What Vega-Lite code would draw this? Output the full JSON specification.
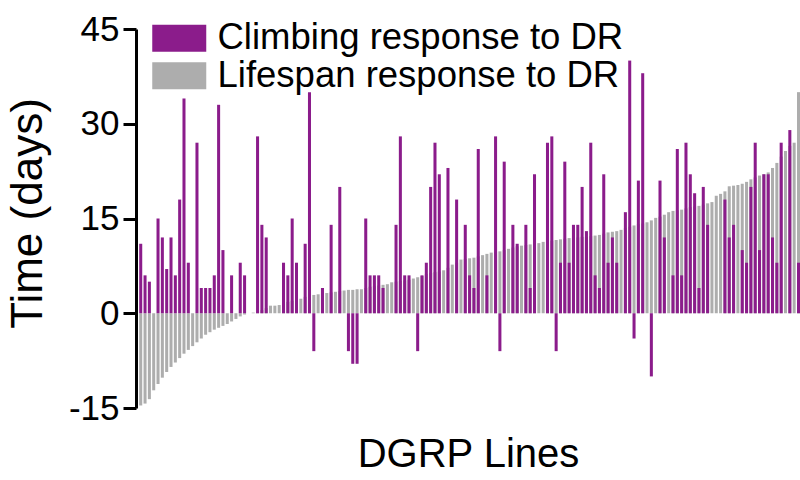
{
  "$schema": "https://vega.github.io/schema/vega-lite/v6.json",
  "width": 664,
  "height": 379,
  "autosize": {"type": "none"},
  "padding": {"left": 136, "top": 29, "right": 0, "bottom": 72},
  "background": "white",
  "config": {
    "font": "Liberation Sans",
    "view": {"stroke": null}
  },
  "data": {
    "values": [
      {"line":0,"lifespan":-14.6,"climbing":11},{"line":1,"lifespan":-14.3,"climbing":6},{"line":2,"lifespan":-13.6,"climbing":5},{"line":3,"lifespan":-12.2,"climbing":0},{"line":4,"lifespan":-11.2,"climbing":15},{"line":5,"lifespan":-10.2,"climbing":12},{"line":6,"lifespan":-9.3,"climbing":7},{"line":7,"lifespan":-8.5,"climbing":12},{"line":8,"lifespan":-7.8,"climbing":6},{"line":9,"lifespan":-7.1,"climbing":18},
      {"line":10,"lifespan":-6.4,"climbing":34},{"line":11,"lifespan":-5.8,"climbing":8},{"line":12,"lifespan":-5.2,"climbing":0},{"line":13,"lifespan":-4.6,"climbing":27},{"line":14,"lifespan":-4.0,"climbing":4},{"line":15,"lifespan":-3.4,"climbing":4},{"line":16,"lifespan":-3.0,"climbing":4},{"line":17,"lifespan":-2.6,"climbing":6},{"line":18,"lifespan":-2.3,"climbing":33},{"line":19,"lifespan":-2.0,"climbing":10},
      {"line":20,"lifespan":-1.7,"climbing":0},{"line":21,"lifespan":-1.3,"climbing":6},{"line":22,"lifespan":-0.9,"climbing":0},{"line":23,"lifespan":-0.5,"climbing":8},{"line":24,"lifespan":-0.2,"climbing":6},{"line":25,"lifespan":0,"climbing":0},{"line":26,"lifespan":0.1,"climbing":0},{"line":27,"lifespan":0.3,"climbing":28},{"line":28,"lifespan":0.5,"climbing":14},{"line":29,"lifespan":0.8,"climbing":12},
      {"line":30,"lifespan":1.2,"climbing":0},{"line":31,"lifespan":1.2,"climbing":0},{"line":32,"lifespan":1.3,"climbing":0},{"line":33,"lifespan":1.5,"climbing":8},{"line":34,"lifespan":1.8,"climbing":6},{"line":35,"lifespan":2.0,"climbing":15},{"line":36,"lifespan":2.2,"climbing":8},{"line":37,"lifespan":2.3,"climbing":0},{"line":38,"lifespan":2.6,"climbing":11},{"line":39,"lifespan":2.8,"climbing":35},
      {"line":40,"lifespan":2.9,"climbing":-6},{"line":41,"lifespan":3.0,"climbing":0},{"line":42,"lifespan":3.1,"climbing":4},{"line":43,"lifespan":3.2,"climbing":0},{"line":44,"lifespan":3.3,"climbing":14},{"line":45,"lifespan":3.4,"climbing":0},{"line":46,"lifespan":3.5,"climbing":20},{"line":47,"lifespan":3.6,"climbing":0},{"line":48,"lifespan":3.7,"climbing":-6},{"line":49,"lifespan":3.7,"climbing":-8},
      {"line":50,"lifespan":3.8,"climbing":-8},{"line":51,"lifespan":3.8,"climbing":0},{"line":52,"lifespan":4.0,"climbing":15},{"line":53,"lifespan":4.2,"climbing":6},{"line":54,"lifespan":4.3,"climbing":6},{"line":55,"lifespan":4.4,"climbing":6},{"line":56,"lifespan":4.5,"climbing":4},{"line":57,"lifespan":4.6,"climbing":0},{"line":58,"lifespan":4.9,"climbing":0},{"line":59,"lifespan":5.0,"climbing":14},
      {"line":60,"lifespan":5.1,"climbing":28},{"line":61,"lifespan":5.2,"climbing":6},{"line":62,"lifespan":5.3,"climbing":6},{"line":63,"lifespan":5.5,"climbing":0},{"line":64,"lifespan":5.7,"climbing":-6},{"line":65,"lifespan":5.9,"climbing":6},{"line":66,"lifespan":6.2,"climbing":8},{"line":67,"lifespan":6.4,"climbing":20},{"line":68,"lifespan":6.5,"climbing":27},{"line":69,"lifespan":6.6,"climbing":22},
      {"line":70,"lifespan":6.8,"climbing":0},{"line":71,"lifespan":7.2,"climbing":23},{"line":72,"lifespan":7.7,"climbing":0},{"line":73,"lifespan":8.0,"climbing":18},{"line":74,"lifespan":8.5,"climbing":0},{"line":75,"lifespan":8.6,"climbing":14},{"line":76,"lifespan":8.7,"climbing":6},{"line":77,"lifespan":8.8,"climbing":4},{"line":78,"lifespan":9.0,"climbing":26},{"line":79,"lifespan":9.2,"climbing":0},
      {"line":80,"lifespan":9.4,"climbing":6},{"line":81,"lifespan":9.6,"climbing":0},{"line":82,"lifespan":9.7,"climbing":28},{"line":83,"lifespan":9.8,"climbing":-6},{"line":84,"lifespan":10.0,"climbing":24},{"line":85,"lifespan":10.2,"climbing":0},{"line":86,"lifespan":10.4,"climbing":14},{"line":87,"lifespan":10.6,"climbing":11},{"line":88,"lifespan":10.7,"climbing":0},{"line":89,"lifespan":10.8,"climbing":14},
      {"line":90,"lifespan":10.9,"climbing":4},{"line":91,"lifespan":11.0,"climbing":22},{"line":92,"lifespan":11.1,"climbing":0},{"line":93,"lifespan":11.3,"climbing":0},{"line":94,"lifespan":11.4,"climbing":27},{"line":95,"lifespan":11.5,"climbing":28},{"line":96,"lifespan":11.6,"climbing":-6},{"line":97,"lifespan":11.7,"climbing":8},{"line":98,"lifespan":11.8,"climbing":24},{"line":99,"lifespan":11.9,"climbing":8},
      {"line":100,"lifespan":12.0,"climbing":14},{"line":101,"lifespan":12.0,"climbing":14},{"line":102,"lifespan":12.1,"climbing":20},{"line":103,"lifespan":12.1,"climbing":13},{"line":104,"lifespan":12.2,"climbing":27},{"line":105,"lifespan":12.3,"climbing":6},{"line":106,"lifespan":12.4,"climbing":4},{"line":107,"lifespan":12.6,"climbing":22},{"line":108,"lifespan":12.8,"climbing":8},{"line":109,"lifespan":12.9,"climbing":12},
      {"line":110,"lifespan":13.0,"climbing":8},{"line":111,"lifespan":13.2,"climbing":0},{"line":112,"lifespan":13.5,"climbing":16},{"line":113,"lifespan":13.7,"climbing":40},{"line":114,"lifespan":13.9,"climbing":-4},{"line":115,"lifespan":14.1,"climbing":21},{"line":116,"lifespan":14.2,"climbing":38},{"line":117,"lifespan":14.4,"climbing":0},{"line":118,"lifespan":14.7,"climbing":-10},{"line":119,"lifespan":15.1,"climbing":0},
      {"line":120,"lifespan":15.3,"climbing":21},{"line":121,"lifespan":15.6,"climbing":12},{"line":122,"lifespan":16.0,"climbing":0},{"line":123,"lifespan":16.2,"climbing":6},{"line":124,"lifespan":16.3,"climbing":26},{"line":125,"lifespan":16.4,"climbing":6},{"line":126,"lifespan":16.6,"climbing":27},{"line":127,"lifespan":16.8,"climbing":22},{"line":128,"lifespan":16.9,"climbing":19},{"line":129,"lifespan":17.0,"climbing":4},
      {"line":130,"lifespan":17.2,"climbing":20},{"line":131,"lifespan":17.4,"climbing":14},{"line":132,"lifespan":17.6,"climbing":0},{"line":133,"lifespan":18.6,"climbing":0},{"line":134,"lifespan":18.9,"climbing":0},{"line":135,"lifespan":19.3,"climbing":18},{"line":136,"lifespan":20.1,"climbing":12},{"line":137,"lifespan":20.2,"climbing":14},{"line":138,"lifespan":20.3,"climbing":0},{"line":139,"lifespan":20.5,"climbing":10},
      {"line":140,"lifespan":20.8,"climbing":8},{"line":141,"lifespan":21.2,"climbing":20},{"line":142,"lifespan":21.5,"climbing":27},{"line":143,"lifespan":21.8,"climbing":10},{"line":144,"lifespan":22.0,"climbing":22},{"line":145,"lifespan":22.3,"climbing":22},{"line":146,"lifespan":23.0,"climbing":12},{"line":147,"lifespan":23.8,"climbing":8},{"line":148,"lifespan":24.8,"climbing":27},{"line":149,"lifespan":25.7,"climbing":0},
      {"line":150,"lifespan":26.5,"climbing":29},{"line":151,"lifespan":27.0,"climbing":0},{"line":152,"lifespan":35.0,"climbing":8}
    ]
  },
  "encoding": {
    "x": {
      "field": "line",
      "type": "ordinal",
      "scale": {"paddingInner": 0.3, "paddingOuter": 0.37, "align": 1},
      "axis": {
        "title": "DGRP Lines",
        "labels": false,
        "ticks": false,
        "domain": false,
        "titleFontSize": 40,
        "titleFontWeight": "normal",
        "titleColor": "black",
        "titlePadding": 26
      }
    }
  },
  "layer": [
    {
      "mark": {"type": "bar", "opacity": 1},
      "encoding": {
        "y": {
          "field": "lifespan",
          "type": "quantitative",
          "scale": {"domain": [-15, 45], "nice": false, "zero": false},
          "axis": {
            "title": "Time (days)",
            "values": [-15, 0, 15, 30, 45],
            "labelExpr": "datum.value < 0 ? '-' + abs(datum.value) : '' + datum.value",
            "grid": false,
            "domainColor": "black",
            "domainWidth": 3,
            "tickColor": "black",
            "tickWidth": 3,
            "tickSize": 13,
            "labelFontSize": 35,
            "labelColor": "black",
            "labelPadding": 4,
            "titleFontSize": 44,
            "titleFontWeight": "normal",
            "titleColor": "black",
            "titleX": -95,
            "titleY": 184,
            "titleBaseline": "alphabetic",
            "titleAlign": "center",
            "titleAngle": 270
          }
        },
        "color": {
          "datum": "Lifespan response to DR",
          "type": "nominal",
          "scale": {
            "domain": ["Climbing response to DR", "Lifespan response to DR"],
            "range": ["#8B1C8B", "#ADADAD"]
          },
          "legend": {
            "orient": "none",
            "legendX": 25,
            "legendY": -9,
            "title": null,
            "symbolType": "M-2,-1H2V1H-2Z",
            "symbolSize": 729,
            "symbolStrokeWidth": 0,
            "symbolOpacity": 1,
            "labelFontSize": 36.5,
            "labelColor": "black",
            "labelOffset": 20,
            "rowPadding": 0.5,
            "labelLimit": 600
          }
        }
      }
    },
    {
      "mark": {"type": "bar", "opacity": 1},
      "encoding": {
        "y": {"field": "climbing", "type": "quantitative"},
        "color": {"datum": "Climbing response to DR", "type": "nominal"}
      }
    },
    {
      "mark": {"type": "rule", "color": "black", "strokeWidth": 3},
      "encoding": {"y": {"datum": 0, "type": "quantitative"}}
    }
  ]
}
